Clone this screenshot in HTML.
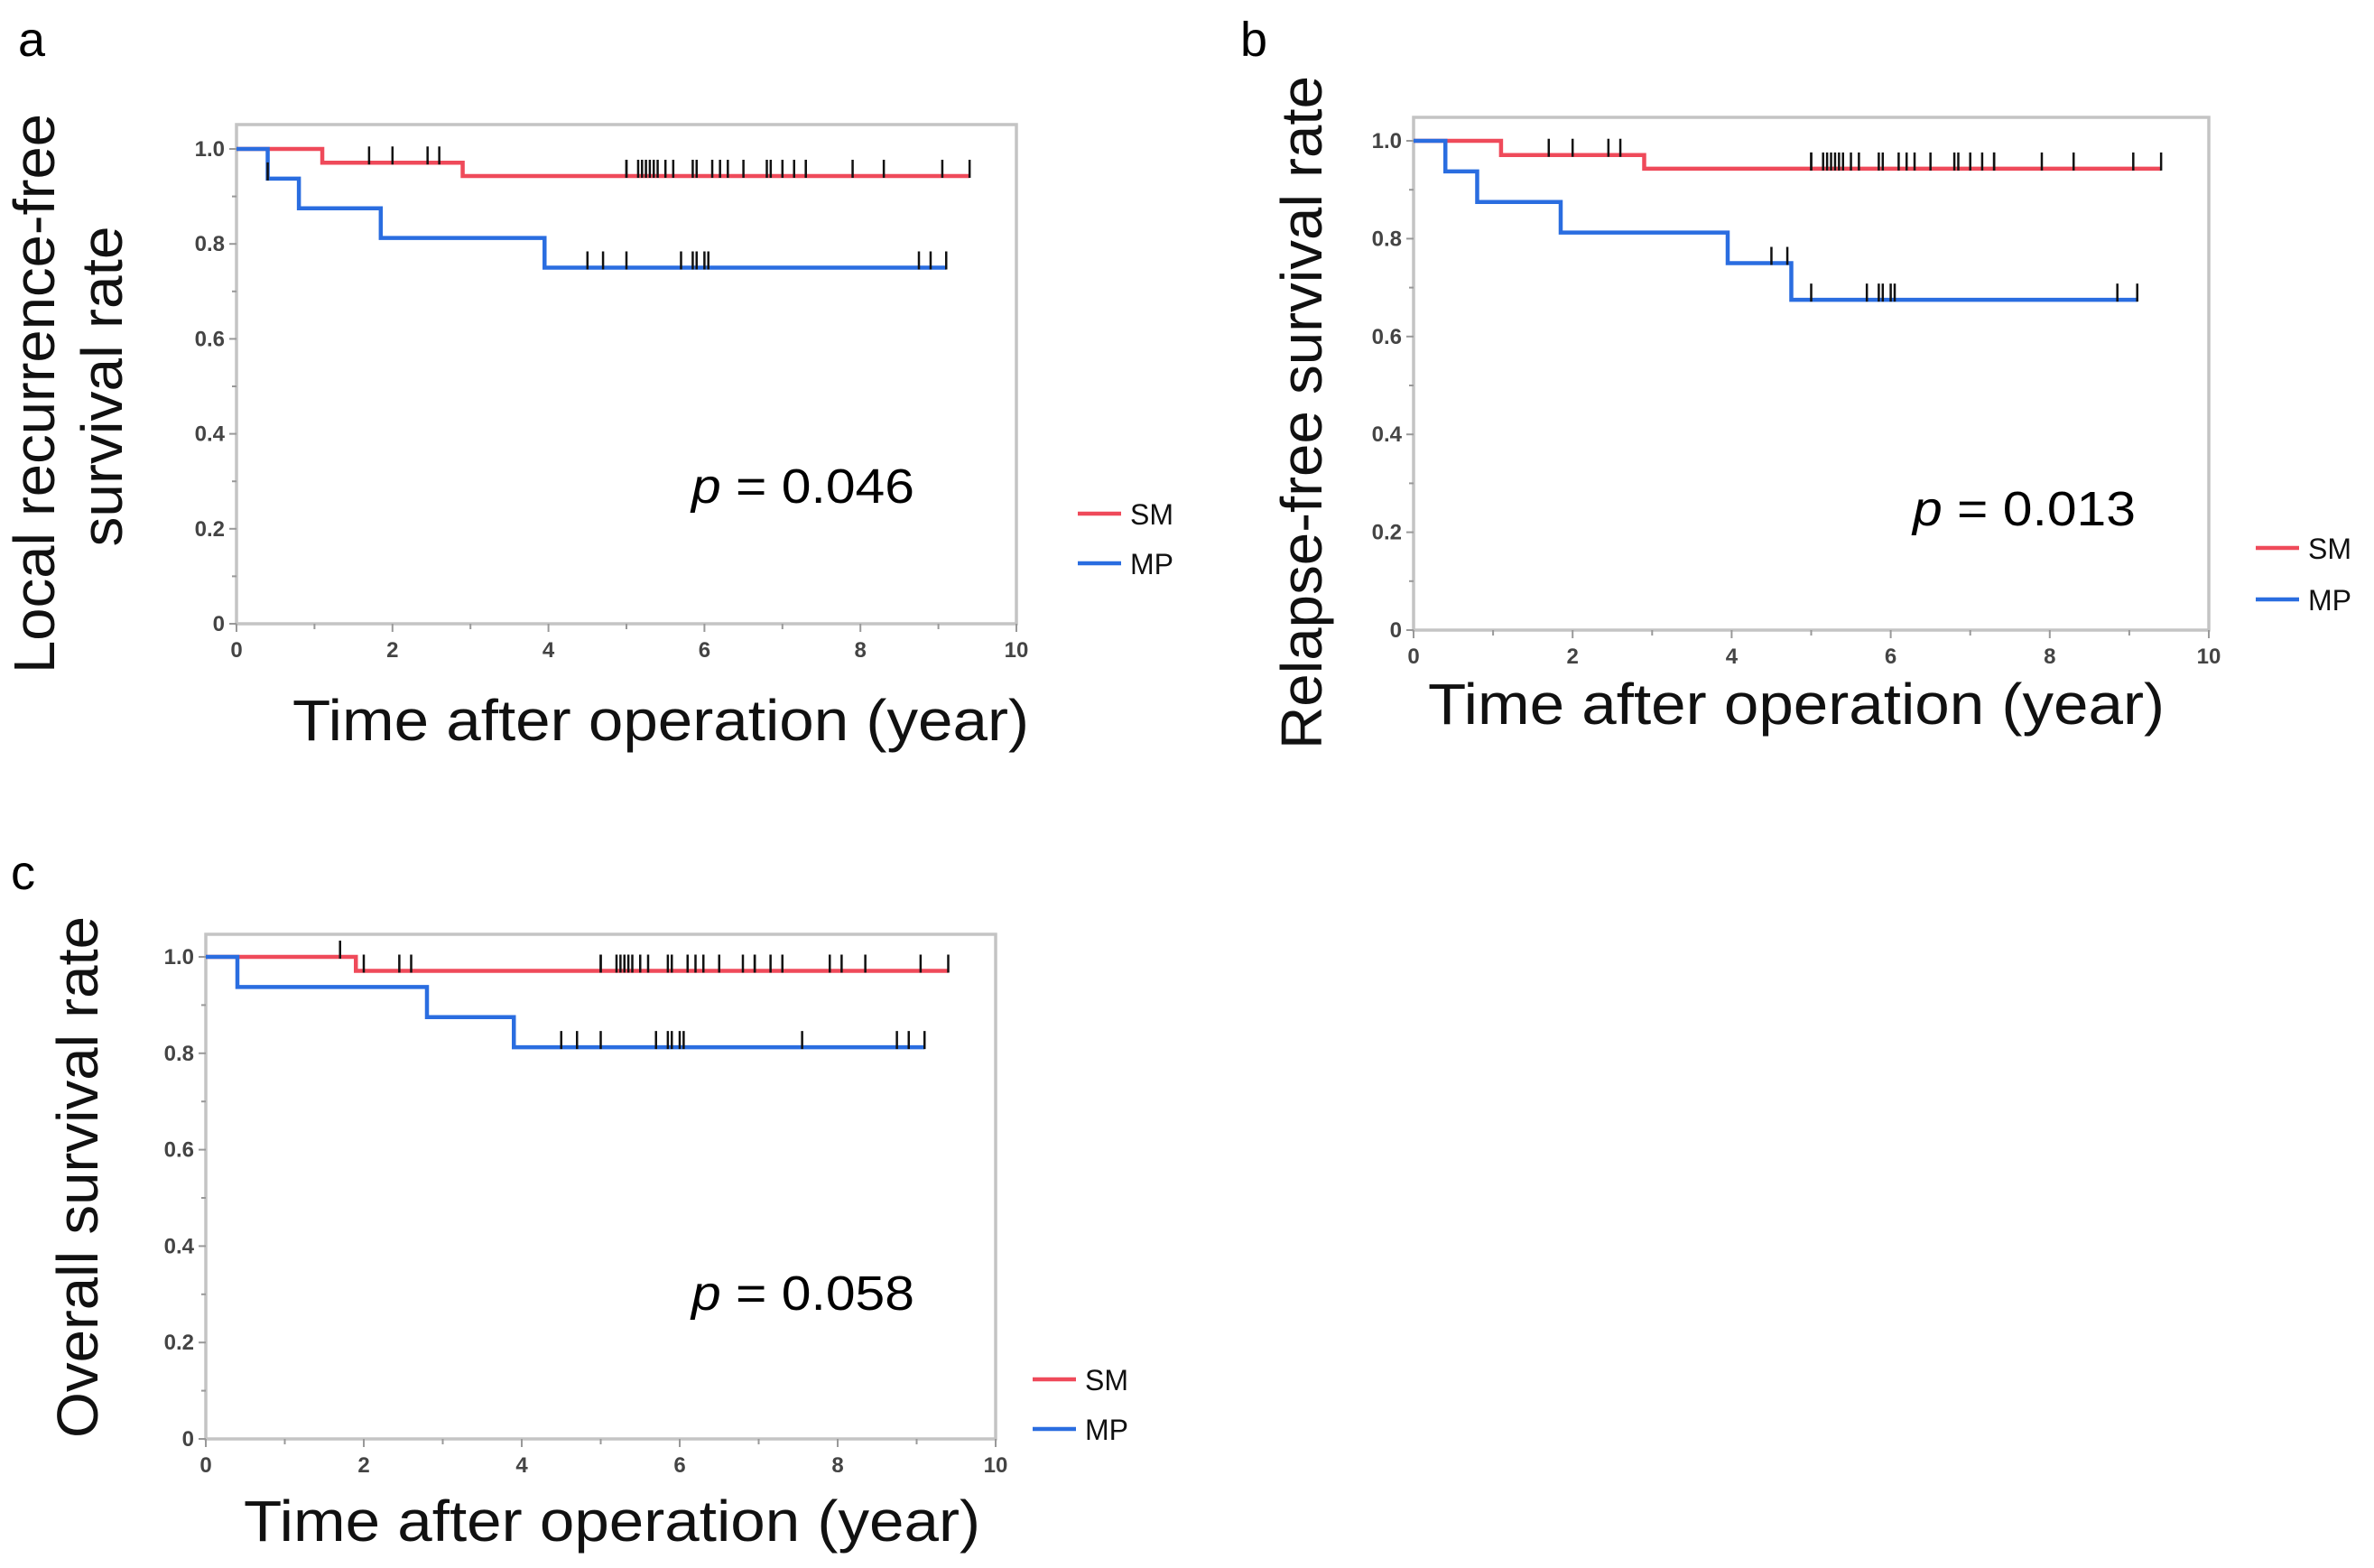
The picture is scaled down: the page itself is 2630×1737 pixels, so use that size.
<!DOCTYPE html>
<html><head><meta charset="utf-8"><style>
body{margin:0;background:#fff}
svg{display:block}
text{font-family:"Liberation Sans",Arial,sans-serif}
</style></head><body>
<svg id="fig" width="2630" height="1737" viewBox="0 0 2630 1737" xmlns="http://www.w3.org/2000/svg"></svg>
<script>
// Panel a data
const aSmTimes=[0,1.1,2.9,9.4];
const aSmVals=[1.0,0.971,0.943,0.943];
const aSmCens=[1.7,2.0,2.45,2.6,5.0,5.0,5.15,5.2,5.25,5.3,5.35,5.4,5.5,5.6,5.85,5.9,6.1,6.2,6.3,6.5,6.8,6.85,7.0,7.15,7.3,7.3,7.9,8.3,9.05,9.4];
const aMpTimes=[0,0.4,0.8,1.85,3.95,9.1];
const aMpVals=[1.0,0.9375,0.875,0.8125,0.75,0.75];
const aMpCens=[0.4,4.5,4.7,5.0,5.7,5.85,5.9,6.0,6.05,8.75,8.9,9.1];
// Panel b data
const bSmTimes=[0,1.1,2.9,9.4];
const bSmVals=[1.0,0.971,0.943,0.943];
const bSmCens=[1.7,2.0,2.45,2.6,5.0,5.0,5.15,5.2,5.25,5.3,5.35,5.4,5.5,5.6,5.85,5.9,6.1,6.2,6.3,6.5,6.8,6.85,7.0,7.15,7.3,7.3,7.9,8.3,9.05,9.4];
const bMpTimes=[0,0.4,0.8,1.85,3.95,4.75,9.1];
const bMpVals=[1.0,0.9375,0.875,0.8125,0.75,0.675,0.675];
const bMpCens=[4.5,4.7,5.0,5.7,5.85,5.9,6.0,6.05,8.85,9.1];
// Panel c data
const cSmTimes=[0,1.9,9.4];
const cSmVals=[1.0,0.971,0.971];
const cSmCens=[1.7,2.0,2.45,2.6,5.0,5.0,5.2,5.25,5.3,5.35,5.4,5.5,5.6,5.85,5.9,6.1,6.2,6.3,6.5,6.8,6.95,6.95,7.15,7.3,7.3,7.9,8.05,8.35,9.05,9.4];
const cMpTimes=[0,0.4,2.8,3.9,9.1];
const cMpVals=[1.0,0.9375,0.875,0.8125,0.8125];
const cMpCens=[4.5,4.7,5.0,5.7,5.85,5.9,6.0,6.05,7.55,8.75,8.9,9.1];
const xTickLabels=["0","2","4","6","8","10"];
const yTickLabels=["0","0.2","0.4","0.6","0.8","1.0"];
const legendLabels=["SM","MP"];

const NS="http://www.w3.org/2000/svg";
const svg=document.getElementById('fig');
function mk(tag,attrs,parent,txt){const e=document.createElementNS(NS,tag);for(const k in attrs)e.setAttribute(k,attrs[k]);if(txt!==undefined)e.textContent=txt;(parent||svg).appendChild(e);return e;}
const RED="#ef4a5a",BLUE="#2a6de0";

function panel(id,cfg){
  const g=mk('g',{});
  
  
  const X=t=>cfg.x0+(cfg.x10-cfg.x0)*t/10;
  const Y=v=>cfg.y0+(cfg.y1-cfg.y0)*v;
  const fr=mk('rect',{x:cfg.x0,y:cfg.top,width:cfg.x10-cfg.x0,height:cfg.y0-cfg.top,fill:'none',stroke:'#c4c4c4','stroke-width':3.5},g);
  
  
  for(let i=0;i<=10;i++){
    const t=mk('line',{x1:X(i),x2:X(i),y1:cfg.y0,y2:cfg.y0+(i%2?6:9),stroke:'#999','stroke-width':2},g);
    
    
    const u=mk('line',{x1:cfg.x0,x2:cfg.x0-(i%2?5:8),y1:Y(i/10),y2:Y(i/10),stroke:'#999','stroke-width':2},g);
    
    
  }
  xTickLabels.forEach((l,i)=>{
    const t=mk('text',{x:X(i*2),y:cfg.y0+37,'font-size':24,'font-weight':'bold','text-anchor':'middle',fill:'#444'},g,l);
    
    
  });
  yTickLabels.forEach((l,i)=>{
    const t=mk('text',{x:cfg.x0-13,y:Y(i*0.2)+8,'font-size':24,'font-weight':'bold','text-anchor':'end',fill:'#444'},g,l);
    
    
  });
  function curve(times,vals,cens,color,name){
    let d='M'+X(times[0])+','+Y(vals[0]);
    for(let i=1;i<times.length;i++){d+=' H'+X(times[i])+' V'+Y(vals[i]);}
    const p=mk('path',{d:d,fill:'none',stroke:color,'stroke-width':4.5},g);
    
    
    cens.forEach(c=>{
      let v=vals[0];
      for(let i=0;i<times.length;i++){if(times[i]<=c)v=vals[i];}
      const y=Y(v);
      const m=mk('line',{x1:X(c),x2:X(c),y1:y-18,y2:y+2,stroke:'#111','stroke-width':2.5},g);
      
      
    });
  }
  curve(cfg.smT,cfg.smV,cfg.smC,RED,'sm');
  curve(cfg.mpT,cfg.mpV,cfg.mpC,BLUE,'mp');
  const pt=mk('text',{x:cfg.px,y:cfg.py,'font-size':54,fill:'#000',textLength:247,lengthAdjust:'spacingAndGlyphs'},g);
  
  
  mk('tspan',{'font-style':'italic'},pt,'p');
  mk('tspan',{},pt,' = '+cfg.pval);
  [RED,BLUE].forEach((c,i)=>{
    const ly=cfg.ly[i];
    const ln=mk('line',{x1:cfg.lx,x2:cfg.lx+48,y1:ly,y2:ly,stroke:c,'stroke-width':4.5},g);
    
    
    const t=mk('text',{x:cfg.lx+58,y:ly+12,'font-size':32,fill:'#111'},g,legendLabels[i]);
    
    
  });
  const xt=mk('text',{x:cfg.xtx,y:cfg.xty,'font-size':64,'text-anchor':'middle',fill:'#111',textLength:816,lengthAdjust:'spacingAndGlyphs'},g,'Time after operation (year)');
  
  
  cfg.ytitle.forEach((s,i)=>{
    const yx=cfg.ytx+i*cfg.ygap;
    const tty=cfg.tty[i];
    const t=mk('text',{x:yx,y:tty,'font-size':64,'text-anchor':'middle',fill:'#111',textLength:cfg.ylen[i],lengthAdjust:'spacingAndGlyphs',transform:'rotate(-90 '+yx+' '+tty+')'},g,s);
    
    
  });
  const lb=mk('text',{x:cfg.lbx,y:cfg.lby,'font-size':54,fill:'#000'},g,id);
  
  
}

panel('a',{x0:262,x10:1126,y1:165,y0:691,top:138,smT:aSmTimes,smV:aSmVals,smC:aSmCens,mpT:aMpTimes,mpV:aMpVals,mpC:aMpCens,
  px:766,py:557,pval:'0.046',lx:1194,ly:[569,624],xtx:732,xty:820,ytitle:['Local recurrence-free','survival rate'],ylen:[620,355],ytx:60,ygap:75,tty:[436,428],lbx:20,lby:62});
panel('b',{x0:1566,x10:2447,y1:156,y0:698,top:130,smT:bSmTimes,smV:bSmVals,smC:bSmCens,mpT:bMpTimes,mpV:bMpVals,mpC:bMpCens,
  px:2119,py:582,pval:'0.013',lx:2499,ly:[607,664],xtx:1990,xty:802,ytitle:['Relapse-free survival rate'],ylen:[746],ytx:1464,ygap:0,tty:[457],lbx:1374,lby:62});
panel('c',{x0:228,x10:1103,y1:1060,y0:1594,top:1035,smT:cSmTimes,smV:cSmVals,smC:cSmCens,mpT:cMpTimes,mpV:cMpVals,mpC:cMpCens,
  px:766,py:1451,pval:'0.058',lx:1144,ly:[1528,1583],xtx:678,xty:1707,ytitle:['Overall survival rate'],ylen:[578],ytx:108,ygap:0,tty:[1304],lbx:12,lby:985});
</script>
</body></html>
